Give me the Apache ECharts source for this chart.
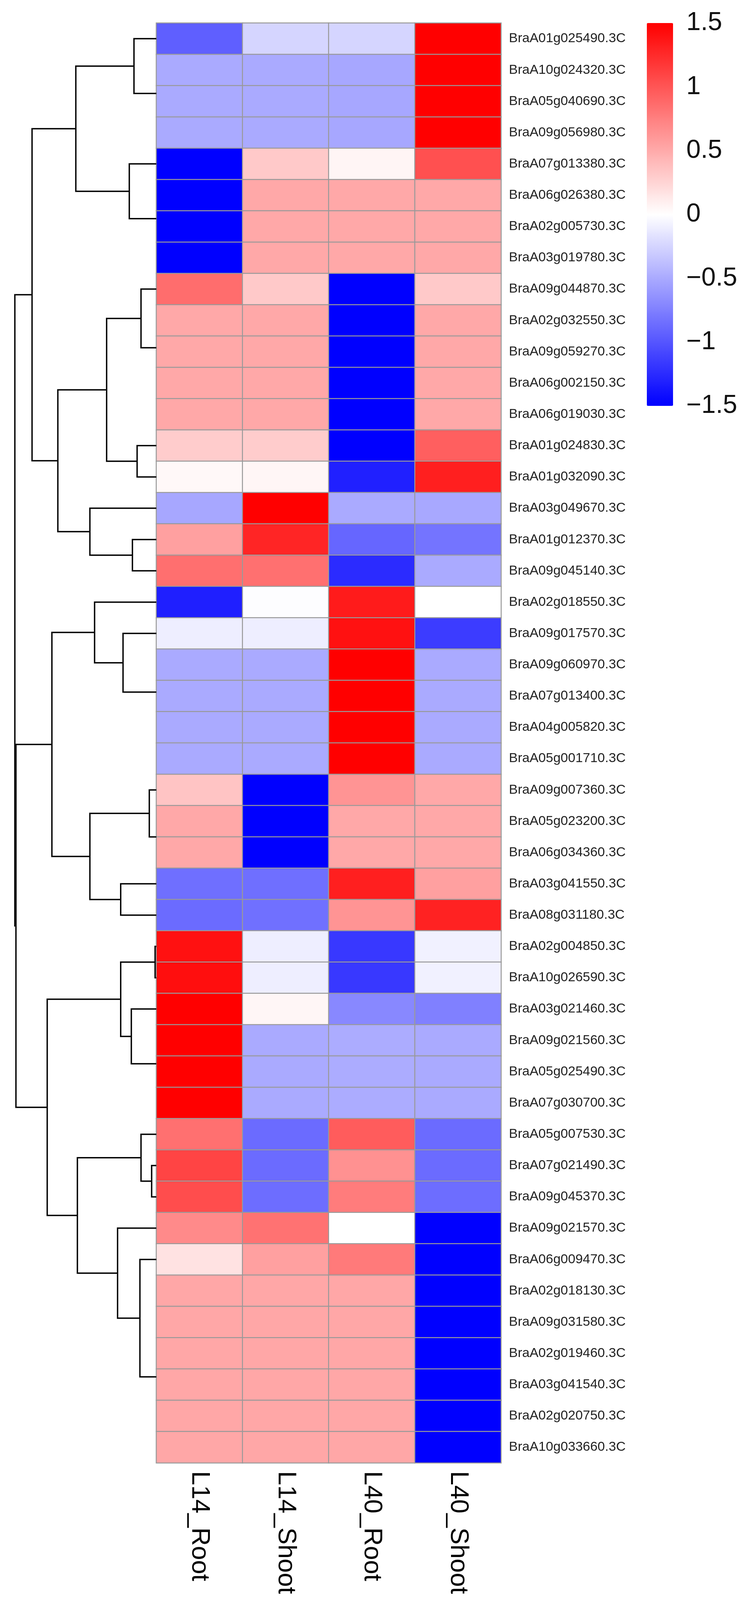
<!DOCTYPE html>
<html>
<head>
<meta charset="utf-8">
<title>heatmap</title>
<script src="https://cdn.jsdelivr.net/npm/echarts@6/dist/echarts.min.js"></script>
<style>
  html, body { margin: 0; padding: 0; background: #ffffff; overflow: hidden; }
  #heatmap { width: 1901px; height: 100vh; }
</style>
</head>
<body>
<div id="heatmap"></div>
<script>
// 样本（列）
var samples = ['L14_Root', 'L14_Shoot', 'L40_Root', 'L40_Shoot'];

// 基因（行，按聚类顺序从上到下）
var genes = [
    'BraA01g025490.3C', 'BraA10g024320.3C', 'BraA05g040690.3C', 'BraA09g056980.3C',
    'BraA07g013380.3C', 'BraA06g026380.3C', 'BraA02g005730.3C', 'BraA03g019780.3C',
    'BraA09g044870.3C', 'BraA02g032550.3C', 'BraA09g059270.3C', 'BraA06g002150.3C',
    'BraA06g019030.3C', 'BraA01g024830.3C', 'BraA01g032090.3C', 'BraA03g049670.3C',
    'BraA01g012370.3C', 'BraA09g045140.3C', 'BraA02g018550.3C', 'BraA09g017570.3C',
    'BraA09g060970.3C', 'BraA07g013400.3C', 'BraA04g005820.3C', 'BraA05g001710.3C',
    'BraA09g007360.3C', 'BraA05g023200.3C', 'BraA06g034360.3C', 'BraA03g041550.3C',
    'BraA08g031180.3C', 'BraA02g004850.3C', 'BraA10g026590.3C', 'BraA03g021460.3C',
    'BraA09g021560.3C', 'BraA05g025490.3C', 'BraA07g030700.3C', 'BraA05g007530.3C',
    'BraA07g021490.3C', 'BraA09g045370.3C', 'BraA09g021570.3C', 'BraA06g009470.3C',
    'BraA02g018130.3C', 'BraA09g031580.3C', 'BraA02g019460.3C', 'BraA03g041540.3C',
    'BraA02g020750.3C', 'BraA10g033660.3C'
];

// 标准化表达量（z-score），每列一个数组，顺序同 genes
var L14_Root = [
    -0.94, -0.5, -0.5, -0.5, -1.5, -1.5, -1.5, -1.5, 0.86, 0.51,
    0.51, 0.51, 0.51, 0.30, 0.04, -0.52, 0.56, 0.85, -1.32, -0.1,
    -0.5, -0.5, -0.5, -0.5, 0.35, 0.51, 0.51, -0.85, -0.87, 1.4,
    1.42, 1.5, 1.5, 1.5, 1.5, 0.84, 1.1, 1.05, 0.69, 0.17,
    0.52, 0.52, 0.52, 0.52, 0.52, 0.52
];
var L14_Shoot = [
    -0.25, -0.5, -0.5, -0.5, 0.32, 0.51, 0.51, 0.51, 0.32, 0.51,
    0.51, 0.51, 0.51, 0.30, 0.05, 1.5, 1.28, 0.84, -0.01, -0.1,
    -0.5, -0.5, -0.5, -0.5, -1.5, -1.5, -1.5, -0.85, -0.84, -0.1,
    -0.1, 0.05, -0.5, -0.5, -0.5, -0.87, -0.87, -0.86, 0.83, 0.56,
    0.52, 0.52, 0.52, 0.52, 0.52, 0.52
];
var L40_Root = [
    -0.25, -0.52, -0.52, -0.52, 0.06, 0.51, 0.51, 0.51, -1.5, -1.5,
    -1.5, -1.5, -1.5, -1.5, -1.31, -0.5, -0.9, -1.25, 1.34, 1.4,
    1.5, 1.5, 1.5, 1.5, 0.63, 0.51, 0.51, 1.32, 0.63, -1.17,
    -1.17, -0.7, -0.49, -0.49, -0.49, 0.96, 0.65, 0.77, 0.0, 0.78,
    0.52, 0.52, 0.52, 0.52, 0.52, 0.52
];
var L40_Shoot = [
    1.5, 1.5, 1.5, 1.5, 1.03, 0.51, 0.51, 0.51, 0.32, 0.51,
    0.51, 0.51, 0.51, 0.94, 1.32, -0.51, -0.82, -0.5, 0.0, -1.15,
    -0.5, -0.5, -0.5, -0.5, 0.51, 0.51, 0.51, 0.56, 1.3, -0.08,
    -0.08, -0.75, -0.5, -0.5, -0.5, -0.87, -0.87, -0.86, -1.5, -1.5,
    -1.5, -1.5, -1.5, -1.5, -1.5, -1.5
];

// 行聚类（hclust 格式：负数=叶子行号，正数=之前的合并步骤，第三个值=高度）
var merges = [
    [-3, -4, 0], [-2, 1, 0], [-1, 2, 1.43],
    [-7, -8, 0], [-6, 4, 0], [-5, 5, 1.73],
    [3, 6, 5.15],
    [-12, -13, 0], [-11, 8, 0], [-10, 9, 0], [-9, 10, 0.98],
    [-14, -15, 1.23], [11, 12, 3.18],
    [-17, -18, 1.53], [-16, 14, 4.25],
    [13, 15, 6.3], [7, 16, 7.95],
    [-23, -24, 0], [-22, 18, 0], [-21, 19, 0], [-20, 20, 2.13], [-19, 21, 3.95],
    [-26, -27, 0], [-25, 23, 0.45], [-28, -29, 2.28], [24, 25, 4.25],
    [22, 26, 6.68],
    [-30, -31, 0.08], [-34, -35, 0], [-33, 29, 0], [-32, 30, 1.6], [28, 31, 2.28],
    [-37, -38, 0.3], [-36, 33, 0.98],
    [-41, -42, 0], [35, -43, 0], [-44, -45, 0], [37, -46, 0], [36, 38, 0],
    [-40, 39, 1.05], [-39, 40, 2.48],
    [34, 41, 5.05], [32, 42, 6.98],
    [27, 43, 8.98], [17, 44, 9.05]
];

// 图例刻度
var legendTicks = [-1.5, -1, -0.5, 0, 0.5, 1, 1.5];

(function() {
    var columns = [L14_Root, L14_Shoot, L40_Root, L40_Shoot];

    // 热图数据 [列, 行, 值]
    var heatData = [];
    columns.forEach(function(col, ci) {
        col.forEach(function(v, ri) {
            heatData.push([ci, ri, v]);
        });
    });

    // 计算树状图每个节点的位置（子节点位置的平均）
    var nodePos = [], nodeH = [];
    var treeData = merges.map(function(m) {
        var ends = [m[0], m[1]].map(function(c) {
            return c < 0 ? [0, -c] : [nodeH[c - 1], nodePos[c - 1]];
        });
        nodePos.push((ends[0][1] + ends[1][1]) / 2);
        nodeH.push(m[2]);
        return [ends[0][0], ends[0][1], ends[1][0], ends[1][1], m[2]];
    });

    var dom = document.getElementById('heatmap');
    var myChart = echarts.init(dom);

    // 原图高 4313，按实际窗口高度等比缩放纵向位置
    var ky = (dom.clientHeight || 4313) / 4313;
    function sy(v) { return Math.round(v * ky); }

    var font = 'Liberation Sans, Arial, sans-serif';

    var option = {
        backgroundColor: '#ffffff',
        animation: false,
        grid: [
            { left: 400, top: sy(62), width: 882, height: sy(3881), outerBoundsMode: 'none' },
            { left: 0, top: sy(62), width: 400, height: sy(3881), outerBoundsMode: 'none' },
            { left: 1655, top: sy(62), width: 67, height: sy(1032), outerBoundsMode: 'none' }
        ],
        xAxis: [
            {
                type: 'category',
                gridIndex: 0,
                data: samples,
                axisLine: { show: false },
                axisTick: { show: false },
                splitLine: { show: false },
                axisLabel: {
                    rotate: -90,
                    margin: sy(22),
                    fontSize: Math.round(68 * ky),
                    color: '#000000',
                    fontFamily: font
                }
            },
            { type: 'value', gridIndex: 1, min: 0, max: 10, inverse: true, show: false },
            { type: 'value', gridIndex: 2, show: false }
        ],
        yAxis: [
            {
                type: 'category',
                gridIndex: 0,
                data: genes,
                inverse: true,
                position: 'right',
                axisLine: { show: false },
                axisTick: { show: false },
                splitLine: { show: false },
                axisLabel: {
                    margin: 20,
                    fontSize: 34,
                    color: '#222222',
                    fontFamily: font
                }
            },
            { type: 'value', gridIndex: 1, min: 0.5, max: genes.length + 0.5, inverse: true, show: false },
            {
                type: 'value',
                gridIndex: 2,
                position: 'right',
                min: legendTicks[0],
                max: legendTicks[legendTicks.length - 1],
                interval: legendTicks[1] - legendTicks[0],
                axisLine: { show: false },
                axisTick: { show: false },
                splitLine: { show: false },
                axisLabel: {
                    margin: 34,
                    fontSize: 66,
                    color: '#111111',
                    fontFamily: font,
                    formatter: function(v) {
                        return String(v).replace('-', '\u2212');
                    }
                }
            }
        ],
        visualMap: {
            type: 'continuous',
            seriesIndex: 0,
            min: -1.5,
            max: 1.5,
            calculable: false,
            hoverLink: false,
            orient: 'vertical',
            left: 1655,
            top: sy(62),
            padding: 0,
            itemWidth: 67,
            itemHeight: sy(1032),
            text: null,
            inRange: {
                color: ['#0000ff', '#ffffff', '#ff0000']
            }
        },
        series: [
            {
                type: 'heatmap',
                xAxisIndex: 0,
                yAxisIndex: 0,
                data: heatData,
                itemStyle: {
                    borderColor: '#999999',
                    borderWidth: 2.5
                },
                emphasis: { disabled: true }
            },
            {
                type: 'custom',
                xAxisIndex: 1,
                yAxisIndex: 1,
                data: treeData,
                encode: { x: [0, 2, 4], y: [1, 3] },
                silent: true,
                renderItem: function(params, api) {
                    var h = api.value(4);
                    if (h <= 0) {
                        return null;
                    }
                    var pts = [
                        api.coord([api.value(0), api.value(1)]),
                        api.coord([h, api.value(1)]),
                        api.coord([h, api.value(3)]),
                        api.coord([api.value(2), api.value(3)])
                    ];
                    return {
                        type: 'polyline',
                        shape: { points: pts },
                        style: { stroke: '#000000', lineWidth: 3.5, fill: null }
                    };
                }
            }
        ]
    };

    myChart.setOption(option);

    window.addEventListener('resize', function() {
        myChart.resize();
    });
})();
</script>
</body>
</html>
